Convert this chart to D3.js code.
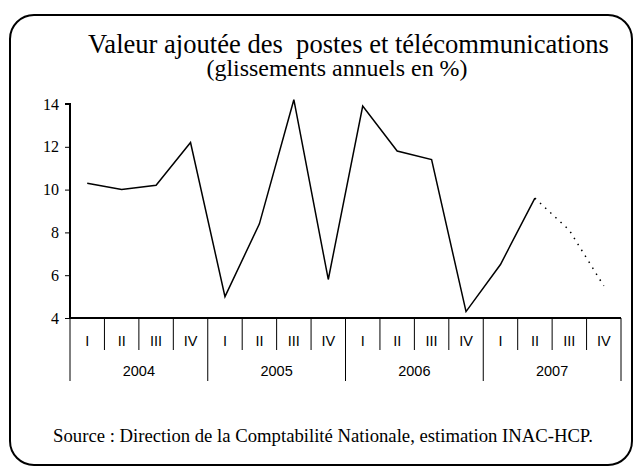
<!DOCTYPE html>
<html>
<head>
<meta charset="utf-8">
<script src="https://cdn.jsdelivr.net/npm/d3@7"></script>
<style>
  body { margin: 0; background: #fff; }
  svg { display: block; }
</style>
</head>
<body>
<svg id="chart" width="637" height="469"></svg>
<script>
// data
var years = ['2004', '2005', '2006', '2007'];
var quarters = ['I', 'II', 'III', 'IV'];
var values = [10.3, 10.0, 10.2, 12.2, 5.0, 8.4, 14.2, 5.8, 13.9, 11.8, 11.4, 4.3, 6.5, 9.6, 8.1, 5.5];
var lastActual = 13; // 2007 II is the last solid point, the rest is the estimate (dotted)
var yTicks = [4, 6, 8, 10, 12, 14];

var serif = 'Liberation Serif';
var sans = 'Liberation Sans';

var svg = d3.select('#chart');
var margin = { left: 70, right: 16, top: 104, bottom: 151 };
var width = 637 - margin.right;

var cats = [];
years.forEach(function (yr) {
  quarters.forEach(function (q) { cats.push(yr + '-' + q); });
});

var x = d3.scaleBand().domain(cats).range([margin.left, width]);
var y = d3.scaleLinear().domain([4, 14]).range([469 - margin.bottom, margin.top]);

// fit a text to a given width by adjusting its font size
function fitText(sel, w) {
  var fs = parseFloat(sel.style('font-size'));
  var len = sel.node().getComputedTextLength();
  sel.style('font-size', (fs * w / len).toFixed(2) + 'px');
}

// frame
svg.append('rect')
  .attr('x', 10).attr('y', 15)
  .attr('width', 622).attr('height', 450)
  .attr('rx', 24).attr('ry', 24)
  .attr('fill', 'none')
  .attr('stroke', 'black')
  .attr('stroke-width', 2);

// titles
var t1 = svg.append('text')
  .attr('x', 348.5).attr('y', 53)
  .attr('text-anchor', 'middle')
  .style('font-family', serif)
  .style('font-size', '24px')
  .style('white-space', 'pre')
  .text('Valeur ajoutée des  postes et télécommunications');
fitText(t1, 521);

var t2 = svg.append('text')
  .attr('x', 337).attr('y', 76)
  .attr('text-anchor', 'middle')
  .style('font-family', serif)
  .style('font-size', '20px')
  .text('(glissements annuels en %)');
fitText(t2, 261);

// y axis
var yAxis = svg.append('g')
  .attr('transform', 'translate(' + margin.left + ',0)')
  .call(d3.axisLeft(y).tickValues(yTicks).tickSize(5).tickPadding(6).tickFormat(d3.format('d')));
yAxis.select('.domain').attr('stroke-width', 2).attr('d', 'M0,' + y(4) + 'V' + y(14) + 'H-5');
yAxis.selectAll('text').style('font-family', serif).style('font-size', '16px');

// x axis line
svg.append('line')
  .attr('x1', margin.left).attr('x2', width)
  .attr('y1', y(4)).attr('y2', y(4))
  .attr('stroke', 'black').attr('stroke-width', 2);

// quarter / year dividers and labels
var xg = svg.append('g');
cats.forEach(function (c, i) {
  var x0 = x(c);
  var isYear = i % 4 === 0;
  xg.append('line')
    .attr('x1', x0).attr('x2', x0)
    .attr('y1', y(4)).attr('y2', isYear ? y(4) + 63 : y(4) + 32)
    .attr('stroke', 'black').attr('stroke-width', 1);
  xg.append('text')
    .attr('x', x0 + x.bandwidth() / 2)
    .attr('y', y(4) + 27.5)
    .attr('text-anchor', 'middle')
    .style('font-family', sans)
    .style('font-size', '14.5px')
    .text(quarters[i % 4]);
});
xg.append('line')
  .attr('x1', width).attr('x2', width)
  .attr('y1', y(4)).attr('y2', y(4) + 63)
  .attr('stroke', 'black').attr('stroke-width', 1);
years.forEach(function (yr) {
  var x0 = x(yr + '-I');
  var x1 = x(yr + '-IV') + x.bandwidth();
  xg.append('text')
    .attr('x', (x0 + x1) / 2)
    .attr('y', y(4) + 58)
    .attr('text-anchor', 'middle')
    .style('font-family', sans)
    .style('font-size', '14.5px')
    .text(yr);
});

// line
var pts = values.map(function (v, i) { return [x(cats[i]) + x.bandwidth() / 2, y(v)]; });
var line = d3.line();
svg.append('path')
  .attr('d', line(pts.slice(0, lastActual + 1)))
  .attr('fill', 'none')
  .attr('stroke', 'black')
  .attr('stroke-width', 1.5)
  .attr('stroke-linejoin', 'miter');
svg.append('path')
  .attr('d', line(pts.slice(lastActual)))
  .attr('fill', 'none')
  .attr('stroke', 'black')
  .attr('stroke-width', 1.5)
  .attr('stroke-dasharray', '1.5,5.5');

// source
var src = svg.append('text')
  .attr('x', 323).attr('y', 442)
  .attr('text-anchor', 'middle')
  .style('font-family', serif)
  .style('font-size', '16px')
  .text('Source : Direction de la Comptabilité Nationale, estimation INAC-HCP.');
fitText(src, 540);
</script>
</body>
</html>
